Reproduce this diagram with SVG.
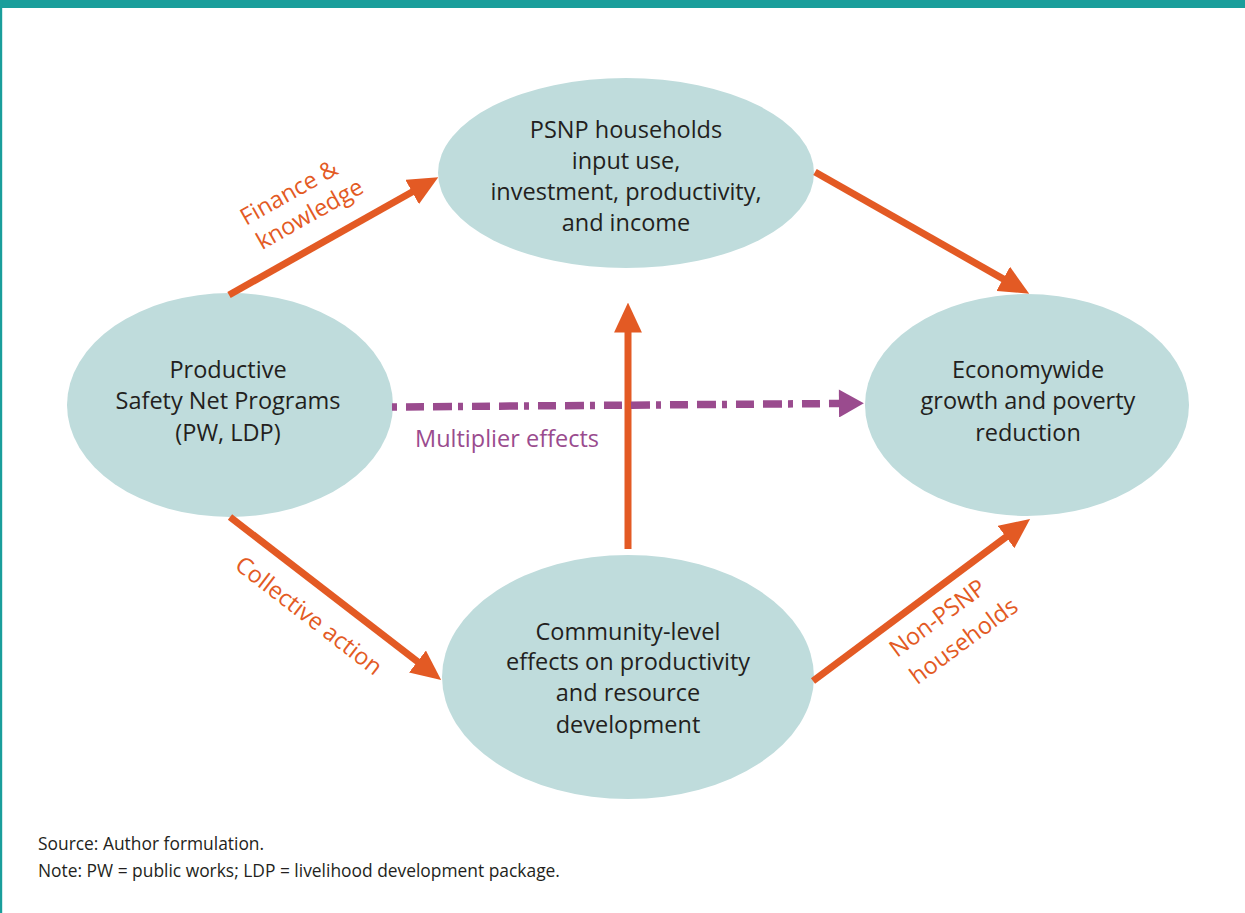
<svg xmlns="http://www.w3.org/2000/svg" width="1245" height="913" viewBox="0 0 1245 913">
<defs>
<style>
.node{fill:#bfdcdc;}
.nt{font-family:"Open Sans","Liberation Sans",sans-serif;font-size:23.5px;fill:#231f20;text-anchor:middle;}
.lab{font-family:"Open Sans","Liberation Sans",sans-serif;font-size:23.5px;fill:#e35a24;}
.mul{font-family:"Open Sans","Liberation Sans",sans-serif;font-size:23.5px;fill:#9a4b8e;}
.foot{font-family:"Open Sans","Liberation Sans",sans-serif;font-size:17.4px;fill:#231f20;}
.oarrow{stroke:#e35a24;stroke-width:7;fill:none;marker-end:url(#ohead);}
.parrow{stroke:#9a4b8e;stroke-width:7.5;fill:none;stroke-dasharray:5 9 18 9 19 6;marker-end:url(#phead);}
</style>
<marker id="ohead" markerUnits="userSpaceOnUse" markerWidth="30" markerHeight="28" viewBox="0 0 28 26" refX="8" refY="13" orient="auto">
<path d="M0,0 L28,13 L0,26 z" fill="#e35a24"/>
</marker>
<marker id="phead" markerUnits="userSpaceOnUse" markerWidth="26" markerHeight="28" viewBox="0 0 24 27" refX="1" refY="13.5" orient="auto">
<path d="M0,0 L24,13.5 L0,27 z" fill="#9a4b8e"/>
</marker>
</defs>
<rect x="0" y="0" width="1245" height="913" fill="#ffffff"/>
<rect x="0" y="0" width="1245" height="8" fill="#1a9e9b"/>
<rect x="0" y="0" width="2.2" height="913" fill="#1a9e9b"/>

<g id="node-psnp">
<ellipse class="node" cx="626" cy="173" rx="188" ry="95"/>
<text class="nt" x="626" y="138">PSNP households</text>
<text class="nt" x="626" y="169">input use,</text>
<text class="nt" x="626" y="200">investment, productivity,</text>
<text class="nt" x="626" y="231">and income</text>
</g>
<g id="node-programs">
<ellipse class="node" cx="230" cy="405" rx="163" ry="112"/>
<text class="nt" x="228" y="378">Productive</text>
<text class="nt" x="228" y="409">Safety Net Programs</text>
<text class="nt" x="228" y="441">(PW, LDP)</text>
</g>
<g id="node-economy">
<ellipse class="node" cx="1027" cy="405" rx="162" ry="111"/>
<text class="nt" x="1028" y="378">Economywide</text>
<text class="nt" x="1028" y="409">growth and poverty</text>
<text class="nt" x="1028" y="441">reduction</text>
</g>
<g id="node-community">
<ellipse class="node" cx="628" cy="677" rx="186" ry="122"/>
<text class="nt" x="628" y="640">Community-level</text>
<text class="nt" x="628" y="670">effects on productivity</text>
<text class="nt" x="628" y="701">and resource</text>
<text class="nt" x="628" y="733">development</text>
</g>

<g id="connectors">
<line class="oarrow" x1="229" y1="295" x2="419.6" y2="187.8"/>
<line class="oarrow" x1="815" y1="172" x2="1010.6" y2="283.1"/>
<line class="oarrow" x1="628" y1="549" x2="628" y2="324"/>
<line class="oarrow" x1="230" y1="517" x2="424.2" y2="666.8"/>
<line class="oarrow" x1="813" y1="681" x2="1012.9" y2="531.9"/>
<line class="parrow" x1="392" y1="407" x2="840" y2="403.5"/>
</g>

<g id="labels">
<g transform="translate(246,226) rotate(-29.5)">
<text class="lab" x="0" y="0">Finance &amp;</text>
<text class="lab" x="2" y="29">knowledge</text>
</g>
<g transform="translate(304,622) rotate(37.6)">
<text class="lab" x="0" y="0" text-anchor="middle">Collective action</text>
</g>
<g transform="translate(897,658) rotate(-36.5)">
<text class="lab" x="0" y="0">Non-PSNP</text>
<text class="lab" x="0" y="34">households</text>
</g>
<text class="mul" x="415" y="447">Multiplier effects</text>
</g>

<g id="footnotes">
<text class="foot" x="38" y="850">Source: Author formulation.</text>
<text class="foot" x="38" y="877">Note: PW = public works; LDP = livelihood development package.</text>
</g>
</svg>
